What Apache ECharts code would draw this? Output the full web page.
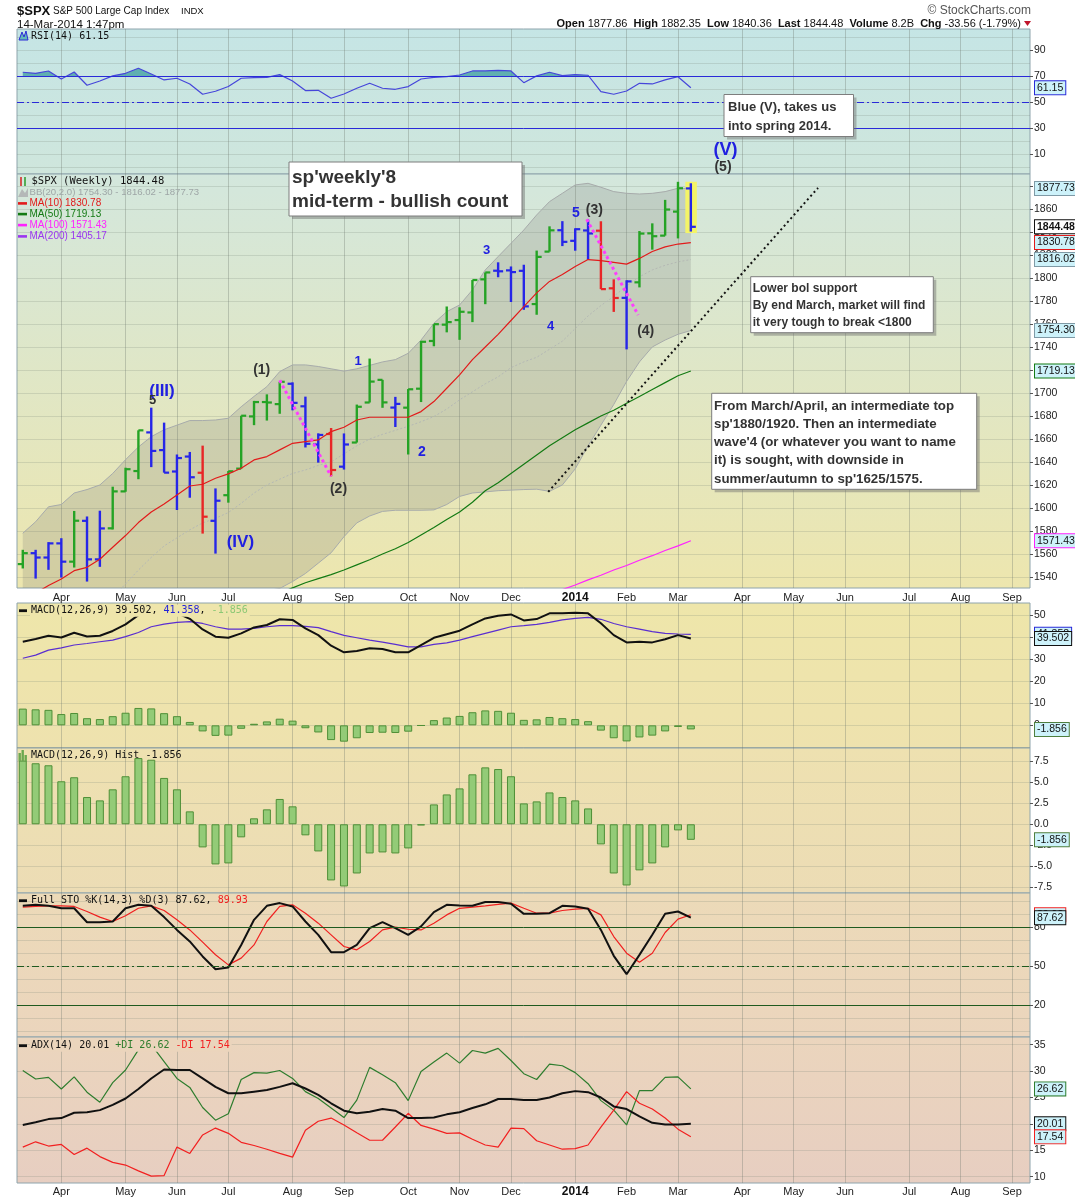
<!DOCTYPE html>
<html>
<head>
<meta charset="utf-8">
<title>$SPX weekly</title>
<script src="https://cdn.jsdelivr.net/npm/echarts@6.0.0/dist/echarts.min.js"></script>
<style>
html,body{margin:0;padding:0;background:#ffffff;}
#chart{width:1075px;height:1200px;}
</style>
</head>
<body>
<div id="chart"></div>
<script>
// ---------------- data ----------------
const weeks = ['2013-03-11','2013-03-18','2013-03-25','2013-04-01','2013-04-08','2013-04-15','2013-04-22','2013-04-29','2013-05-06','2013-05-13',
 '2013-05-20','2013-05-27','2013-06-03','2013-06-10','2013-06-17','2013-06-24','2013-07-01','2013-07-08','2013-07-15','2013-07-22',
 '2013-07-29','2013-08-05','2013-08-12','2013-08-19','2013-08-26','2013-09-02','2013-09-09','2013-09-16','2013-09-23','2013-09-30',
 '2013-10-07','2013-10-14','2013-10-21','2013-10-28','2013-11-04','2013-11-11','2013-11-18','2013-11-25','2013-12-02','2013-12-09',
 '2013-12-16','2013-12-23','2013-12-30','2014-01-06','2014-01-13','2014-01-20','2014-01-27','2014-02-03','2014-02-10','2014-02-18',
 '2014-02-24','2014-03-03','2014-03-10'];

const openP = [1551.2,1560.7,1556.9,1569.2,1553.3,1588.8,1555.3,1582.3,1614.4,1632.1,
 1665.7,1650.3,1631.7,1644.7,1630.6,1588.8,1611.1,1634.2,1679.6,1692.1,
 1690.3,1708.0,1688.4,1655.2,1664.3,1635.9,1656.9,1691.7,1711.4,1687.3,
 1687.2,1703.7,1745.2,1759.4,1763.4,1770.0,1798.8,1806.3,1806.6,1806.2,
 1777.3,1822.9,1841.5,1832.3,1841.3,1841.1,1791.0,1782.7,1796.2,1838.8,
 1836.8,1857.7,1877.86];
const highP = [1563.6,1563.6,1570.3,1573.7,1597.4,1592.6,1597.6,1618.5,1635.0,1667.5,
 1687.2,1674.2,1646.5,1648.7,1654.2,1617.0,1632.1,1680.2,1693.1,1698.8,
 1709.7,1709.2,1696.8,1664.9,1669.5,1664.8,1689.9,1729.9,1711.4,1696.6,
 1703.4,1745.3,1759.8,1775.2,1774.5,1798.2,1804.8,1813.6,1810.0,1811.5,
 1823.8,1844.9,1849.4,1843.2,1850.8,1849.3,1798.8,1798.0,1840.8,1847.5,
 1867.9,1883.6,1882.35];
const lowP = [1547.4,1538.6,1546.2,1539.5,1548.2,1536.0,1548.8,1581.3,1614.1,1625.0,
 1635.5,1630.7,1598.2,1608.9,1577.7,1560.3,1604.6,1634.2,1672.0,1676.0,
 1681.9,1684.9,1652.6,1639.4,1627.5,1633.4,1656.9,1691.7,1687.1,1670.4,
 1646.5,1692.1,1740.6,1752.7,1746.2,1761.6,1777.2,1800.6,1779.1,1772.3,
 1768.0,1822.9,1827.7,1823.7,1815.8,1790.3,1770.5,1737.9,1791.8,1824.6,
 1836.8,1834.4,1840.36];
const closeP = [1560.7,1556.9,1569.2,1553.3,1588.9,1555.3,1582.2,1614.4,1633.7,1667.5,
 1649.6,1630.7,1643.4,1626.7,1592.4,1606.3,1631.9,1680.2,1692.1,1691.7,
 1709.7,1691.4,1655.8,1663.5,1633.0,1655.2,1688.0,1709.9,1691.8,1690.5,
 1703.2,1744.5,1759.8,1761.6,1770.6,1798.2,1804.8,1805.8,1805.1,1775.3,
 1818.3,1841.4,1831.4,1842.4,1838.7,1790.3,1782.6,1797.0,1838.6,1836.3,
 1859.5,1878.0,1844.48];
const barColor = ['g','b','b','b','g','b','b','g','g','g',
 'b','b','b','b','r','b','g','g','g','g',
 'g','b','b','b','r','b','g','g','g','b',
 'g','g','g','g','g','g','g','b','b','b',
 'g','g','b','b','b','r','r','b','g','g',
 'g','g','b'];

const bbUpper = [1578,1588,1601,1603,1613,1616,1620,1630,1642,1653,
 1662,1668,1672,1676,1676,1676.5,1678,1688,1697,1705.5,
 1718.6,1724.4,1724.4,1723,1721,1719,1721,1724,1727,1729,
 1734.5,1746,1760.6,1770.7,1776.5,1789.6,1807,1818.6,1830.1,1841.7,
 1854.8,1866.4,1873.6,1880.9,1882.3,1878.9,1875.1,1873.6,1873,1873.6,
 1875.1,1878,1877.73];
const bbMiddle = [1462,1470,1478,1487,1496,1504,1512,1522,1534,1546,
 1557,1567,1574,1581,1587,1591,1596,1604,1613,1620,
 1625,1630,1633,1637,1640,1647,1654,1660,1664,1667.5,
 1671,1675,1679.5,1686,1694,1701,1708,1714,1722,1727,
 1731,1738,1745,1756,1767,1776,1784,1793,1801,1807,
 1811,1814,1816.02];
const bbLower = [1346,1352,1355,1371,1379,1392,1404,1414,1426,1439,
 1452,1466,1476,1486,1498,1505,1514,1520,1524,1528,
 1530,1536,1543,1552,1561,1575,1587,1593,1597,1598,
 1598,1598,1598.3,1603,1610,1613,1614,1615,1615.5,1616,
 1616.3,1614.5,1620,1634,1654,1672,1690,1710,1727,1740,
 1746,1751,1754.30];
const ma10 = [1520,1526,1532.5,1538.3,1545.5,1548.4,1555.4,1565.8,1576,1587.3,
 1596.5,1603.5,1611.3,1619.1,1620.6,1625.8,1629.6,1634.5,1641.8,1644.7,
 1650.5,1656.2,1657.7,1659.2,1666.4,1670.2,1676.5,1678.9,1678.9,1678.9,
 1678.9,1683.8,1692.5,1704.1,1715.7,1729,1740,1751,1763,1775,
 1787,1797,1803,1810,1816,1815,1813.5,1812,1817,1823,
 1827,1829.5,1830.78];
const ma50 = [1432,1437,1442,1447,1452,1457,1462,1467,1472,1477,
 1482,1487,1492,1497,1501,1505,1509,1513,1517,1521,
 1526,1530.5,1535,1538.5,1542,1546,1550.5,1555,1560,1564.5,
 1570,1576.5,1583,1590,1596.5,1605,1615,1622,1630,1638,
 1646,1654,1661,1668,1674,1680,1685,1691,1697,1703,
 1709,1715,1719.13];
const ma100 = [null,null,null,null,null,null,null,null,null,null,
 null,null,null,null,null,null,null,null,null,null,
 null,null,null,null,null,null,null,null,null,null,
 null,null,null,null,null,null,null,null,null,null,
 1521,1525,1529,1533,1537.5,1541.5,1546,1550,1554.5,1558.5,
 1563,1567,1571.43];
const ma200Last = 1405.17;

const rsi = [73.1,72.3,74.1,67.9,73.3,63.1,66.4,70.3,72.3,76.2,
 71.8,67.2,68.5,64.1,56.2,58.5,62.1,68.5,69.0,69.2,
 71.3,66.4,59.0,59.2,53.1,56.4,60.8,64.6,60.8,60.0,
 62.1,67.9,69.2,69.7,71.0,74.1,74.1,74.6,74.1,65.1,
 70.3,73.1,70.5,71.3,70.8,58.2,56.2,58.7,64.6,64.1,
 67.2,69.7,61.15];
const macdLine = [38.0,39.2,40.7,39.9,42.1,40.4,40.7,42.9,45.9,50.1,
 52.5,51.5,51.0,48.4,43.6,40.3,39.8,41.8,44.5,45.6,
 48.2,47.9,44.1,41.0,36.2,33.2,33.8,35.0,34.7,33.2,
 33.2,36.5,39.8,41.4,43.0,45.9,48.6,49.8,50.4,47.7,
 48.3,50.9,50.9,51.2,50.9,46.4,41.0,37.7,38.0,37.7,
 39.1,41.0,39.502];
const macdSignal = [30.5,31.9,34.2,35.2,36.5,37.2,38.0,38.7,40.3,42.2,
 44.8,46.0,46.8,47.1,46.3,44.8,43.7,43.7,44.1,44.8,
 45.3,45.3,45.0,44.4,42.6,40.9,39.8,38.7,37.8,36.8,
 35.7,35.7,36.8,37.5,38.7,40.3,41.8,43.3,44.8,45.3,
 45.9,46.8,47.9,48.6,49.1,48.2,46.3,44.8,43.7,42.6,
 41.8,41.5,41.358];
const macdHist = [7.6,7.28,7.04,5.13,5.61,3.25,2.85,4.17,5.73,7.9,
 7.7,5.53,4.17,1.54,-2.76,-4.79,-4.67,-1.56,0.71,1.78,
 3.02,2.14,-1.32,-3.24,-6.7,-7.42,-5.87,-3.48,-3.36,-3.48,
 -2.88,-0.14,2.37,3.56,4.28,5.96,6.79,6.59,5.73,2.49,
 2.73,3.8,3.25,2.85,1.89,-2.4,-5.87,-7.3,-5.5,-4.67,
 -2.76,-0.73,-1.856];
const stoK = [96.8,97.6,96.8,94.9,94.9,84.1,84.1,84.7,94.9,97.6,
 96.8,88.1,78.2,69.3,57.7,47.8,49.1,66.6,86.0,96.8,
 98.9,96.3,84.7,74.4,61.0,61.0,66.6,79.6,84.2,79.6,
 74.4,80.9,91.9,97.6,97.1,96.8,99.7,99.7,98.4,90.6,
 90.6,91.1,96.8,96.3,94.5,78.2,58.2,44.0,58.9,74.4,
 90.6,92.4,87.62];
const stoD = [95.8,96.3,96.8,96.8,96.3,92.4,88.1,84.7,89.1,94.9,
 96.8,93.2,86.0,78.2,68.8,59.0,51.2,56.4,66.6,84.7,
 96.3,97.6,91.1,83.4,74.4,65.4,62.8,69.3,78.2,80.3,
 78.7,78.2,83.4,89.8,94.9,95.8,96.8,97.9,98.9,94.9,
 91.1,91.1,93.2,94.2,94.9,89.8,73.1,60.2,53.2,60.2,
 76.2,86.5,89.93];
const adx = [19.8,20.3,20.9,21.1,22.1,22.2,22.6,23.6,24.8,26.6,
 28.6,30.3,30.2,30.2,28.6,27.0,25.8,25.8,26.1,26.4,
 27.0,27.7,26.7,25.5,23.9,22.5,22.0,22.3,22.8,22.5,
 21.1,21.1,21.2,21.8,22.2,23.0,23.7,24.7,24.7,24.5,
 24.5,25.0,25.8,26.2,26.0,25.0,23.3,22.8,21.4,20.2,
 19.9,19.9,20.01];
const plusDI = [30.1,28.5,28.8,26.6,28.9,26.0,24.1,27.8,30.2,34.0,
 35.0,31.8,28.6,26.9,23.1,20.7,21.9,28.4,29.7,29.6,
 30.1,28.6,26.1,24.8,23.0,21.2,24.5,30.7,29.3,27.8,
 24.4,29.9,31.7,33.4,31.5,33.9,33.4,34.3,32.0,29.5,
 28.4,31.3,31.0,29.7,27.6,24.4,22.6,19.8,26.3,26.3,
 28.8,28.9,26.62];
const minusDI = [15.6,16.6,15.8,16.1,14.2,15.4,13.8,12.7,12.2,11.1,
 10.1,10.2,15.6,14.4,17.9,19.2,18.2,16.5,15.9,15.2,
 14.4,13.7,18.8,20.5,21.1,19.8,18.3,16.9,16.9,19.4,
 22.0,19.7,19.0,18.2,18.3,17.1,16.0,15.6,19.2,19.1,
 16.8,16.0,15.2,15.3,16.0,19.4,22.6,26.1,23.9,22.8,
 21.1,19.0,17.54];

// annotation trend lines (week index, price)
const trendWaveA = [[20, 1711], [24, 1627.5]];
const trendWaveB = [[43.9, 1851], [47.9, 1767.8]];
const trendSupport = [[40.9, 1614], [61.9, 1878.3]];

// axis ticks / labels
const monthTickIdx = [3,8,12,16,21,25,30,34,38,43,47,51,56,60,64,69,73,77];
const monthTickLabels = ['Apr','May','Jun','Jul','Aug','Sep','Oct','Nov','Dec','2014','Feb','Mar','Apr','May','Jun','Jul','Aug','Sep'];
const priceTicks = [1540,1560,1580,1600,1620,1640,1660,1680,1700,1720,1740,1760,1780,1800,1820,1840,1860,1880];
const rsiGridVals = [0,10,20,30,40,50,60,70,80,90,100];
const rsiLabelVals = [10,30,50,70,90];
const rsiLevels = [70,50,30];
const macdGridVals = [-10,0,10,20,30,40,50];
const macdLabelVals = [0,10,20,30,40,50];
const histTicks = [-7.5,-5,-2.5,0,2.5,5,7.5];
const stoGridVals = [0,10,20,30,40,50,60,70,80,90,100];
const stoLabelVals = [20,50,80];
const stoLevels = [80,50,20];
const adxTicks = [10,15,20,25,30,35];

const quoteLabels = ['Open','High','Low','Last','Volume','Chg'];
const quoteValues = ['1877.86','1882.35','1840.36','1844.48','8.2B','-33.56 (-1.79%)'];

// ---------------- chart ----------------
const SANS = "'Liberation Sans', Arial, Helvetica, sans-serif";
const MONO = "'DejaVu Sans Mono', 'Liberation Mono', monospace";
const X_MIN = -0.45, X_MAX = 78.4;
const last = a => a[a.length - 1];
const BAR_COLORS = {g: '#25a325', b: '#2626e8', r: '#e82626'};
const BLUE = '#2020e0';
const chart = echarts.init(document.getElementById('chart'));

const panels = [
  {top: 29,   height: 145, min: -5.2,   max: 106.4, ticks: rsiGridVals,  labels: rsiLabelVals,  fmt: v => String(v), c1: '#c5e5e5', c2: '#cfe6dc'},
  {top: 174,  height: 414, min: 1530.4, max: 1890.4, ticks: priceTicks,  labels: priceTicks,    fmt: v => String(v), c1: '#d3e7dd', c2: '#ede6ae'},
  {top: 603,  height: 145, min: -10.3,  max: 55.6,  ticks: macdGridVals, labels: macdLabelVals, fmt: v => String(v), c1: '#eee6aa', c2: '#eee2ae'},
  {top: 748,  height: 145, min: -8.2,   max: 9.1,   ticks: histTicks,    labels: histTicks,     fmt: v => v.toFixed(1), c1: '#eee1b0', c2: '#ecdcb5'},
  {top: 893,  height: 144, min: -4.5,   max: 106.7, ticks: stoGridVals,  labels: stoLabelVals,  fmt: v => String(v), c1: '#ecdab8', c2: '#ebd5bd'},
  {top: 1037, height: 146, min: 8.8,    max: 36.45, ticks: adxTicks,     labels: adxTicks,      fmt: v => String(v), c1: '#ebd5bd', c2: '#e7cec1'}
];

const grids = panels.map(p => ({
  left: 17, width: 1013, top: p.top, height: p.height,
  show: true, borderColor: '#8ea4ac', borderWidth: 1,
  outerBoundsMode: 'none', containLabel: false,
  backgroundColor: new echarts.graphic.LinearGradient(0, 0, 0, 1, [{offset: 0, color: p.c1}, {offset: 1, color: p.c2}])
}));

const xAxes = panels.map((p, k) => ({
  gridIndex: k, type: 'value', min: X_MIN, max: X_MAX, position: 'bottom',
  axisLine: {show: false, onZero: false},
  axisTick: {show: false, customValues: monthTickIdx},
  splitLine: {show: true, lineStyle: {color: 'rgba(105,115,105,0.32)', width: 1}},
  axisLabel: {
    show: k === 1 || k === 5, customValues: monthTickIdx, margin: k === 1 ? 4 : 3,
    color: '#222', fontSize: 11, fontFamily: SANS,
    formatter: v => { const t = monthTickLabels[monthTickIdx.indexOf(Math.round(v))] || ''; return t === '2014' ? '{b|2014}' : t; },
    rich: {b: {fontWeight: 'bold', fontSize: 12, fontFamily: SANS, color: '#111'}}
  }
}));

const yAxes = panels.map((p, k) => ({
  gridIndex: k, type: 'value', position: 'right', min: p.min, max: p.max,
  axisLine: {show: false, onZero: false},
  axisTick: {show: true, length: 3, inside: false, customValues: p.labels, lineStyle: {color: '#555'}},
  minorTick: {show: false},
  splitLine: {show: true, lineStyle: {color: 'rgba(120,130,120,0.22)', width: 1}},
  axisLabel: {customValues: p.labels, margin: 4, color: '#222', fontSize: 10.5, fontFamily: SANS, formatter: p.fmt}
}));

// horizontal gridlines of each panel (separate hidden axes so label ticks stay sparse)
const yGridAxes = panels.map((p, k) => ({
  gridIndex: k, type: 'value', position: 'left', min: p.min, max: p.max, show: true,
  axisLine: {show: false, onZero: false},
  axisTick: {show: false, customValues: p.ticks},
  axisLabel: {show: false, customValues: p.ticks},
  splitLine: {show: true, lineStyle: {color: 'rgba(120,130,120,0.22)', width: 1}}
}));
yAxes.forEach(a => { a.splitLine.show = false; });

function tag(v, text, border, opt) {
  opt = opt || {};
  return {
    yAxis: v,
    lineStyle: {color: 'rgba(0,0,0,0)', width: 0},
    label: {
      show: true, position: 'end', distance: 5, formatter: text,
      color: '#111', fontSize: 10.5, fontFamily: SANS, fontWeight: opt.bold ? 'bold' : 'normal',
      backgroundColor: opt.bg || '#cdf2fa', borderColor: border, borderWidth: 1,
      padding: [1, 2, 0, 2], lineHeight: 12
    }
  };
}
function level(v, color, type) {
  return {yAxis: v, lineStyle: {color: color, width: 1, type: type}, label: {show: false}};
}
function mk(items) {
  return {silent: true, symbol: ['none', 'none'], animation: false, data: items};
}
function lineS(g, arr, color, width, extra) {
  return Object.assign({
    type: 'line', xAxisIndex: g, yAxisIndex: g,
    data: arr.map((v, i) => [i, v]),
    showSymbol: false, symbol: 'none', silent: true, animation: false, z: 3,
    lineStyle: {color: color, width: width}
  }, extra || {});
}
const DASHDOT = [7, 3, 2, 3];

const series = [];

// ---- RSI panel ----
series.push({
  type: 'custom', xAxisIndex: 0, yAxisIndex: 0, z: 2, silent: true, animation: false,
  data: rsi.map((v, i) => [i, v]), encode: {x: 0, y: 1},
  renderItem: (params, api) => {
    if (params.dataIndex !== 0) return;
    const y70 = api.coord([0, rsiLevels[0]])[1];
    const pts = rsi.map((v, i) => api.coord([i, v]));
    pts.push([pts[pts.length - 1][0], y70]);
    pts.push([pts[0][0], y70]);
    const cs = params.coordSys;
    return {
      type: 'polygon', shape: {points: pts}, style: {fill: 'rgba(66,160,162,0.78)'},
      clipPath: {type: 'rect', shape: {x: cs.x, y: cs.y, width: cs.width, height: y70 - cs.y}}
    };
  }
});
series.push(lineS(0, rsi, '#4646da', 1.2, {
  markLine: mk([
    level(rsiLevels[0], '#2a2ad8', 'solid'),
    level(rsiLevels[1], '#2a2ad8', DASHDOT),
    level(rsiLevels[2], '#2a2ad8', 'solid'),
    tag(last(rsi), last(rsi).toFixed(2), '#2a2ad8')
  ])
}));

// ---- price panel ----
series.push({
  type: 'custom', xAxisIndex: 1, yAxisIndex: 1, z: 1, silent: true, animation: false,
  data: bbUpper.map((v, i) => [i, v]), encode: {x: 0, y: 1},
  renderItem: (params, api) => {
    if (params.dataIndex !== 0) return;
    const pts = [];
    for (let i = 0; i < bbUpper.length; i++) pts.push(api.coord([i, bbUpper[i]]));
    for (let i = bbLower.length - 1; i >= 0; i--) pts.push(api.coord([i, bbLower[i]]));
    const cs = params.coordSys;
    return {
      type: 'polygon', shape: {points: pts}, style: {fill: 'rgba(110,112,110,0.2)'},
      clipPath: {type: 'rect', shape: {x: cs.x, y: cs.y, width: cs.width, height: cs.height}}
    };
  }
});
series.push(lineS(1, bbUpper, '#a7abab', 1, {z: 2}));
series.push(lineS(1, bbLower, '#a7abab', 1, {z: 2}));
series.push(lineS(1, bbMiddle, '#b6b9b6', 1, {z: 2, lineStyle: {color: '#b4b8b4', width: 1, type: [2, 2]}}));
series.push({
  type: 'custom', xAxisIndex: 1, yAxisIndex: 1, z: 3, silent: true, animation: false,
  data: openP.map((o, i) => [i, o, highP[i], lowP[i], closeP[i]]),
  encode: {x: 0, y: [1, 2, 3, 4]},
  renderItem: (params, api) => {
    const i = api.value(0);
    const pH = api.coord([i, api.value(2)]);
    const pL = api.coord([i, api.value(3)]);
    const yO = api.coord([i, api.value(1)])[1];
    const yC = api.coord([i, api.value(4)])[1];
    const x = pH[0];
    const col = BAR_COLORS[barColor[i]];
    const ch = [];
    if (i === openP.length - 1) {
      ch.push({type: 'rect', shape: {x: x - 5.5, y: pH[1] - 1.5, width: 11.5, height: pL[1] - pH[1] + 3}, style: {fill: '#f4f467'}});
    }
    ch.push({type: 'line', shape: {x1: x, y1: pH[1], x2: x, y2: pL[1]}, style: {stroke: col, lineWidth: 2.4}});
    ch.push({type: 'line', shape: {x1: x - 5, y1: yO, x2: x, y2: yO}, style: {stroke: col, lineWidth: 2.2}});
    ch.push({type: 'line', shape: {x1: x, y1: yC, x2: x + 5, y2: yC}, style: {stroke: col, lineWidth: 2.2}});
    return {type: 'group', children: ch};
  }
});
series.push(lineS(1, ma100, '#ff22ff', 1.2, {z: 4}));
series.push(lineS(1, ma50, '#137a13', 1.2, {z: 4}));
series.push(lineS(1, ma10, '#e21b1b', 1.2, {z: 4, markLine: mk([
  tag(last(bbUpper), last(bbUpper).toFixed(2), '#7f9aa6'),
  tag(last(bbMiddle), last(bbMiddle).toFixed(2), '#7f9aa6'),
  tag(last(ma10), last(ma10).toFixed(2), '#e21b1b'),
  tag(last(closeP), last(closeP).toFixed(2), '#111', {bold: true, bg: '#ffffff'}),
  tag(last(bbLower), last(bbLower).toFixed(2), '#7f9aa6'),
  tag(last(ma50), last(ma50).toFixed(2), '#137a13'),
  tag(last(ma100), last(ma100).toFixed(2), '#ff22ff')
])}));
[trendWaveA, trendWaveB].forEach(t => series.push({
  type: 'line', xAxisIndex: 1, yAxisIndex: 1, data: t, showSymbol: false, symbol: 'none', silent: true, animation: false, z: 5,
  lineStyle: {color: '#ff3cff', width: 3, type: [3, 3]}
}));
series.push({
  type: 'line', xAxisIndex: 1, yAxisIndex: 1, data: trendSupport, showSymbol: false, symbol: 'none', silent: true, animation: false, z: 5,
  lineStyle: {color: '#111', width: 2, type: [2, 3]}
});

// ---- MACD panel ----
series.push({
  type: 'bar', xAxisIndex: 2, yAxisIndex: 2, data: macdHist.map((v, i) => [i, v]), barWidth: 8, silent: true, animation: false, z: 2,
  itemStyle: {color: '#93cb77', borderColor: '#4f8f37', borderWidth: 1}
});
series.push(lineS(2, macdSignal, '#5a2ed0', 1.2));
series.push(lineS(2, macdLine, '#111', 2, {markLine: mk([
  tag(last(macdSignal), last(macdSignal).toFixed(3), '#2a2ad8'),
  tag(last(macdLine), last(macdLine).toFixed(3), '#111'),
  tag(last(macdHist), last(macdHist).toFixed(3), '#4f7f3f')
])}));

// ---- MACD histogram panel ----
series.push({
  type: 'bar', xAxisIndex: 3, yAxisIndex: 3, data: macdHist.map((v, i) => [i, v]), barWidth: 8, silent: true, animation: false, z: 2,
  itemStyle: {color: '#93cb77', borderColor: '#4f8f37', borderWidth: 1},
  markLine: mk([tag(last(macdHist), last(macdHist).toFixed(3), '#4f7f3f')])
});

// ---- Full STO panel ----
series.push(lineS(4, stoD, '#f02020', 1.2));
series.push(lineS(4, stoK, '#111', 2, {markLine: mk([
  level(stoLevels[0], '#1f5a1f', 'solid'),
  level(stoLevels[1], '#1f5a1f', DASHDOT),
  level(stoLevels[2], '#1f5a1f', 'solid'),
  tag(last(stoD), last(stoD).toFixed(2), '#f02020'),
  tag(last(stoK), last(stoK).toFixed(2), '#111')
])}));

// ---- ADX panel ----
series.push(lineS(5, plusDI, '#2e7d2e', 1.2));
series.push(lineS(5, minusDI, '#f22020', 1.2));
series.push(lineS(5, adx, '#111', 2, {markLine: mk([
  tag(last(plusDI), last(plusDI).toFixed(2), '#2e7d2e'),
  tag(last(adx), last(adx).toFixed(2), '#111'),
  tag(last(minusDI), last(minusDI).toFixed(2), '#f22020')
])}));

// ---------------- text & annotations ----------------
const g = [];
function txt(x, y, text, font, fill, extra) {
  g.push(Object.assign({type: 'text', x: x, y: y, z: 100, silent: true,
    style: Object.assign({text: text, font: font, fill: fill, verticalAlign: 'middle', align: 'left'}, (extra && extra.style) || {})}, extra && extra.el || {}));
}
function box(x, y, w, h, lines, font, lh, tx, ty) {
  g.push({type: 'rect', z: 98, silent: true, shape: {x: x + 3, y: y + 3, width: w, height: h}, style: {fill: 'rgba(110,110,110,0.45)'}});
  g.push({type: 'rect', z: 99, silent: true, shape: {x: x, y: y, width: w, height: h}, style: {fill: '#ffffff', stroke: '#7d7d7d', lineWidth: 1}});
  g.push({type: 'text', z: 100, silent: true, x: tx, y: ty, style: {text: lines.join('\n'), font: font, fill: '#333', lineHeight: lh, verticalAlign: 'top', align: 'left'}});
}

// header
txt(17, 11, '$SPX', 'bold 13px ' + SANS, '#111');
txt(53, 11, 'S&P 500 Large Cap Index', '10px ' + SANS, '#111');
txt(181, 11.5, 'INDX', '9.5px ' + SANS, '#111');
txt(17, 24.5, '14-Mar-2014 1:47pm', '11.5px ' + SANS, '#111');
txt(1031, 10.5, '\u00a9 StockCharts.com', '12px ' + SANS, '#555', {style: {align: 'right'}});
g.push({type: 'text', z: 100, silent: true, x: 1021, y: 23.5, style: {
  text: quoteLabels.map((l, i) => '{b|' + l + '} ' + quoteValues[i]).join('  '),
  font: '11px ' + SANS, fill: '#111', align: 'right', verticalAlign: 'middle',
  rich: {b: {font: 'bold 11px ' + SANS, fill: '#111'}}
}});
g.push({type: 'polygon', z: 100, silent: true, shape: {points: [[1024, 21], [1031, 21], [1027.5, 26]]}, style: {fill: '#c0152b'}});

// RSI legend
g.push({type: 'polygon', z: 100, silent: true, shape: {points: [[19, 40], [22, 32], [24, 37], [26, 31], [28, 40]]}, style: {fill: '#62b8b8', stroke: '#2a2ad8', lineWidth: 1}});
txt(31, 36, 'RSI(14) ' + last(rsi).toFixed(2), '10px ' + MONO, '#111');

// price legend
g.push({type: 'line', z: 100, silent: true, shape: {x1: 21, y1: 177, x2: 21, y2: 186}, style: {stroke: '#d42020', lineWidth: 1.5}});
g.push({type: 'line', z: 100, silent: true, shape: {x1: 25, y1: 177, x2: 25, y2: 186}, style: {stroke: '#2a9a2a', lineWidth: 1.5}});
txt(31.5, 181.7, '$SPX (Weekly) ' + last(closeP).toFixed(2), '10.5px ' + MONO, '#111');
g.push({type: 'polygon', z: 100, silent: true, shape: {points: [[18, 197], [22, 189], [25, 193], [28, 188], [28, 197]]}, style: {fill: '#b4b8b8'}});
txt(29.5, 192.7, 'BB(20,2.0) ' + last(bbLower).toFixed(2) + ' - ' + last(bbMiddle).toFixed(2) + ' - ' + last(bbUpper).toFixed(2), '9.6px ' + SANS, '#9ea6a6');
[['MA(10) ' + last(ma10).toFixed(2), '#e21b1b', 203.3],
 ['MA(50) ' + last(ma50).toFixed(2), '#137a13', 214],
 ['MA(100) ' + last(ma100).toFixed(2), '#ff22ff', 225],
 ['MA(200) ' + ma200Last.toFixed(2), '#9b35f0', 236.3]].forEach(m => {
  g.push({type: 'rect', z: 100, silent: true, shape: {x: 18, y: m[2] - 1.2, width: 9, height: 2.6}, style: {fill: m[1]}});
  txt(29.5, m[2], m[0], '10px ' + SANS, m[1]);
});

// MACD legend
g.push({type: 'rect', z: 100, silent: true, shape: {x: 19, y: 609.3, width: 8, height: 2.8}, style: {fill: '#111'}});
g.push({type: 'text', z: 100, silent: true, x: 30, y: 610.7, style: {
  text: 'MACD(12,26,9) ' + last(macdLine).toFixed(3) + ', {s|' + last(macdSignal).toFixed(3) + '}, {h|' + last(macdHist).toFixed(3) + '}',
  font: '10px ' + MONO, fill: '#111', verticalAlign: 'middle', backgroundColor: '#eee5ab', padding: [1, 2, 1, 1],
  rich: {s: {font: '10px ' + MONO, fill: '#2323d8'}, h: {font: '10px ' + MONO, fill: '#8cc874'}}
}});
// Hist legend
[[18.5, 8], [21.5, 11], [24.5, 6]].forEach(b => g.push({type: 'rect', z: 100, silent: true, shape: {x: b[0], y: 761 - b[1], width: 2.4, height: b[1]}, style: {fill: '#6aa84f'}}));
txt(31, 755.7, 'MACD(12,26,9) Hist ' + last(macdHist).toFixed(3), '10px ' + MONO, '#111');
// STO legend
g.push({type: 'rect', z: 100, silent: true, shape: {x: 19, y: 899.3, width: 8, height: 2.8}, style: {fill: '#111'}});
g.push({type: 'text', z: 100, silent: true, x: 31, y: 900.7, style: {
  text: 'Full STO %K(14,3) %D(3) ' + last(stoK).toFixed(2) + ', {r|' + last(stoD).toFixed(2) + '}',
  font: '10px ' + MONO, fill: '#111', verticalAlign: 'middle',
  rich: {r: {font: '10px ' + MONO, fill: '#f02020'}}
}});
// ADX legend
g.push({type: 'rect', z: 100, silent: true, shape: {x: 19, y: 1044.3, width: 8, height: 2.8}, style: {fill: '#111'}});
g.push({type: 'text', z: 100, silent: true, x: 30, y: 1045.7, style: {
  text: 'ADX(14) ' + last(adx).toFixed(2) + ' {p|+DI ' + last(plusDI).toFixed(2) + '} {m|-DI ' + last(minusDI).toFixed(2) + '}',
  font: '10px ' + MONO, fill: '#111', verticalAlign: 'middle', backgroundColor: '#ebd5bc', padding: [1, 2, 1, 1],
  rich: {p: {font: '10px ' + MONO, fill: '#2e7d2e'}, m: {font: '10px ' + MONO, fill: '#f22020'}}
}});

// wave labels
const waveLabels = [
  ['(III)', 162, 391, BLUE, 17], ['5', 152.5, 400, '#333', 13], ['(IV)', 240.4, 542, BLUE, 17],
  ['(1)', 261.7, 370, '#333', 14], ['1', 358, 361, BLUE, 13], ['(2)', 338.5, 489, '#333', 14],
  ['2', 421.8, 452.3, BLUE, 14], ['3', 486.7, 250.7, BLUE, 13], ['4', 550.7, 326, BLUE, 13],
  ['5', 576, 212.7, BLUE, 14], ['(3)', 594.3, 210, '#333', 14], ['(4)', 645.7, 330.7, '#333', 14],
  ['(V)', 725.5, 150, BLUE, 18], ['(5)', 723, 167, '#333', 14]
];
waveLabels.forEach(w => txt(w[1], w[2], w[0], 'bold ' + w[4] + 'px ' + SANS, w[3], {style: {align: 'center'}}));

// note boxes
box(289, 162, 233, 54, ["sp'weekly'8", 'mid-term - bullish count'], 'bold 19px ' + SANS, 23.5, 292, 166.3);
box(724, 94.5, 129.5, 42, ['Blue (V), takes us', 'into spring 2014.'], 'bold 13px ' + SANS, 18.7, 728, 98);
box(750.7, 276.7, 182.6, 56, ['Lower bol support', 'By end March, market will find', 'it very tough to break <1800'], 'bold 12px ' + SANS, 17.2, 752.7, 279.7);
box(711.7, 393.3, 265, 96, ['From March/April, an intermediate top', "sp'1880/1920. Then an intermediate", "wave'4 (or whatever you want to name", 'it) is sought, with downside in', "summer/autumn to sp'1625/1575."], 'bold 13.3px ' + SANS, 18.25, 714, 396.9);

chart.setOption({
  animation: false,
  backgroundColor: '#ffffff',
  textStyle: {fontFamily: SANS},
  grid: grids,
  xAxis: xAxes,
  yAxis: yAxes.concat(yGridAxes),
  series: series,
  graphic: g
});
</script>
</body>
</html>
